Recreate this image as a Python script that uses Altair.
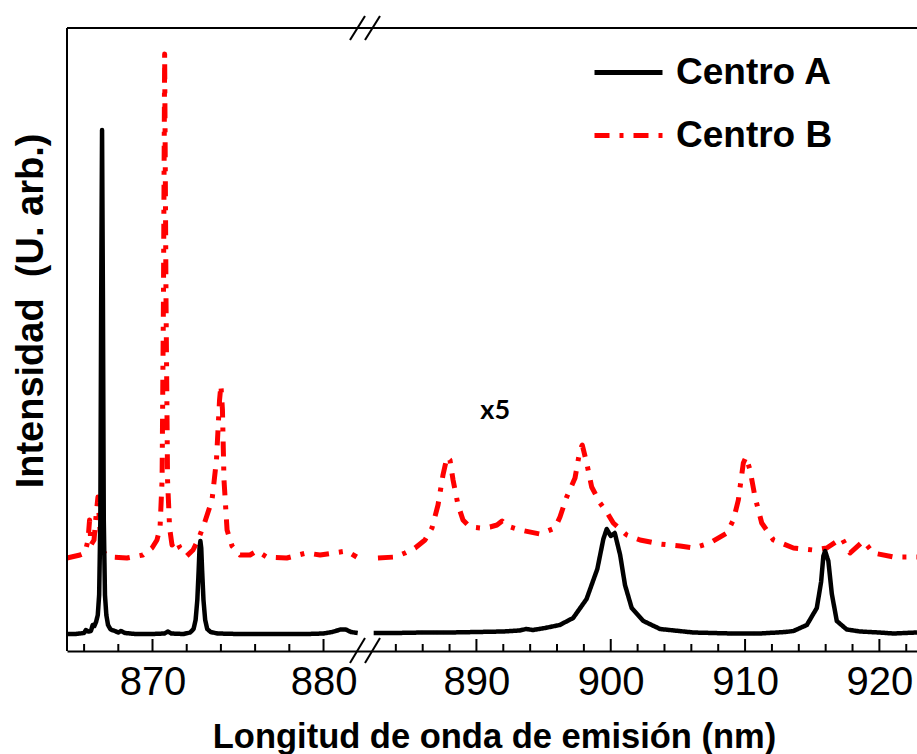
import altair as alt
import pandas as pd

# ---------------- data ----------------
series_names = ["Centro A", "Centro B"]

# Centro A, left of the axis break
a_left_nm = [865.0, 865.5, 866.0, 866.1, 866.25, 866.4, 866.5, 866.6, 866.7, 866.8, 866.88,
             866.95, 867.0, 867.05, 867.1, 867.15, 867.22, 867.3, 867.4, 867.55, 867.8, 868.0,
             868.15, 868.4, 869.0, 870.0, 870.7, 870.9, 871.1, 871.8, 872.2, 872.4, 872.52,
             872.62, 872.7, 872.75, 872.8, 872.85, 872.9, 872.98, 873.08, 873.2, 873.4, 873.8,
             875.0, 877.0, 879.0, 880.0, 880.5, 881.0, 881.3, 881.6, 882.0]
a_left_int = [17, 17, 18, 21, 19.5, 20, 26, 25, 29, 36, 56,
              131, 351, 521, 351, 131, 56, 36, 26, 21.5, 20, 18.5,
              20, 18, 17, 17, 17.5, 19.5, 17.5, 17, 18.5, 22, 31,
              51, 81, 103, 110, 103, 81, 51, 31, 22, 19, 17.5,
              17, 17, 17, 17.5, 19, 21.5, 21.5, 19, 18]

# Centro A, right of the axis break (x5)
a_right_nm = [882.35, 884.0, 886.0, 888.0, 890.0, 892.0, 893.2, 893.7, 894.2, 895.1, 896.2,
              897.2, 898.2, 899.0, 899.45, 899.7, 900.0, 900.3, 900.7, 901.06, 901.56, 902.43,
              903.67, 906.15, 909.0, 911.1, 913.0, 913.6, 914.6, 915.34, 915.66, 915.83, 915.96,
              916.2, 916.46, 916.83, 917.57, 918.56, 920.0, 921.04, 922.8]
a_right_int = [18, 18, 18.5, 18.5, 19, 19.5, 20.5, 22, 21, 23, 26,
               33, 52, 82, 112, 122, 115, 118, 96, 66, 43, 30,
               22, 18.5, 17.5, 17.5, 19, 20, 26, 43, 69, 95, 100,
               90, 57, 30, 21.5, 19.5, 18.5, 17.5, 18.5]

# Centro B, left of the axis break
b_left_nm = [865.0, 865.76, 866.05, 866.23, 866.32, 866.4, 866.58, 866.73, 866.81, 866.93,
             867.1, 867.5, 868.5, 869.44, 869.97, 870.26, 870.44, 870.56, 870.64, 870.71,
             870.79, 870.88, 871.0, 871.14, 871.4, 871.61, 872.0, 872.37, 872.66, 873.0,
             873.48, 873.74, 873.92, 874.0, 874.09, 874.18, 874.36, 874.65, 875.12, 875.7,
             876.1, 876.68, 877.85, 879.0, 879.8, 881.36, 881.94]
b_left_int = [93, 96, 98, 111, 131, 106, 111, 141, 154, 121,
              99, 94, 93, 96, 103, 111, 123, 171, 351, 597,
              351, 171, 123, 106, 111, 103, 95, 101, 111, 126,
              151, 191, 251, 266, 241, 171, 121, 105, 96, 96,
              100, 94, 93, 98, 96, 100, 94]

# Centro B, right of the axis break (x5)
b_right_nm = [882.67, 883.94, 884.68, 885.43, 886.17, 886.69, 887.14, 887.51, 887.81, 888.03,
              888.26, 888.63, 889.0, 889.52, 890.27, 891.01, 891.53, 891.91, 892.28, 893.25,
              894.73, 895.85, 896.22, 896.72, 897.34, 897.71, 897.88, 898.21, 898.58, 899.2,
              899.7, 900.19, 901.19, 902.18, 903.67, 905.16, 906.15, 907.39, 908.64, 909.13,
              909.5, 909.87, 910.07, 910.37, 910.74, 911.24, 912.11, 913.6, 915.09, 916.08,
              917.2, 917.82, 918.81, 919.55, 921.04, 922.53, 922.8]
b_right_int = [93, 94, 98, 103, 111, 123, 146, 176, 194, 191,
               171, 146, 131, 124, 123, 124, 126, 130, 125, 121,
               117, 123, 134, 154, 173, 201, 206, 188, 164, 148,
               139, 128, 116, 111, 107, 105, 103, 108, 118, 131,
               151, 188, 194, 181, 154, 128, 111, 103, 101, 103,
               113, 98, 110, 98, 94, 94, 94]

major_ticks = [870, 880, 890, 900, 910, 920]
minor_ticks = [866, 868, 872, 874, 876, 878, 884, 886, 888, 892, 894, 896, 898,
               902, 904, 906, 908, 912, 914, 916, 918, 922]

note_nm = [891.4]
note_int = [232]
note_text = ["x5"]
y_title = ["Intensidad \u00a0(U. arb.)"]


def seg_frame(name, seg, xs, ys):
    return pd.DataFrame({"nm": xs, "v": ys, "series": name, "seg": seg})


df_a = pd.concat([seg_frame("Centro A", "L", a_left_nm, a_left_int),
                  seg_frame("Centro A", "R", a_right_nm, a_right_int)], ignore_index=True)
df_b = pd.concat([seg_frame("Centro B", "L", b_left_nm, b_left_int),
                  seg_frame("Centro B", "R", b_right_nm, b_right_int)], ignore_index=True)
df_major = pd.DataFrame({"nm": major_ticks})
df_minor = pd.DataFrame({"nm": minor_ticks})
df_note = pd.DataFrame({"nm": note_nm, "v": note_int, "label": note_text})
df_ytitle = pd.DataFrame({"label": y_title})

# ---------------- chart ----------------
W, H = 850, 623
FONT = "Liberation Sans"
MAJOR_LEN, MINOR_LEN = 12, 7

# broken axis: piecewise linear scale
xscale = alt.Scale(domain=[865, 882.25, 882.3, 922.8], range=[0, 295, 306, W],
                   nice=False, zero=False)
yscale = alt.Scale(domain=[0, 623], nice=False, zero=False)

leg = alt.Legend(title=None, orient="none", legendX=525, legendY=8,
                 labelFont=FONT, labelFontSize=37, labelFontWeight="bold",
                 labelColor="black", symbolType="stroke", symbolSize=4624,
                 symbolStrokeWidth=5, labelOffset=11, rowPadding=8, padding=0)
color = alt.Color("series:N", scale=alt.Scale(domain=series_names, range=["#000000", "#ff0000"]),
                  legend=leg)
dash = alt.StrokeDash("series:N",
                      scale=alt.Scale(domain=series_names, range=[[1, 0], [15, 10, 4, 10]]),
                      legend=leg)

x_axis = alt.Axis(orient="bottom", values=major_ticks, ticks=False, tickSize=0,
                  domain=True, domainColor="black", domainWidth=2, grid=False,
                  labelFont=FONT, labelFontSize=40, labelColor="black",
                  labelBaseline="alphabetic", labelPadding=43, labelFlush=False,
                  labelOverlap=False,
                  title="Longitud de onda de emisión (nm)", titleFont=FONT,
                  titleFontSize=34.5, titleFontWeight="bold", titleColor="black",
                  titleX=427, titleY=96, titleBaseline="alphabetic", titleAlign="center")
x_enc = alt.X("nm:Q", scale=xscale, axis=x_axis)
y_enc = alt.Y("v:Q", scale=yscale, axis=None)

red = alt.Chart(df_b).mark_line(strokeWidth=5, strokeJoin="round").encode(
    x=x_enc, y=y_enc, color=color, strokeDash=dash, detail="seg:N")
black = alt.Chart(df_a).mark_line(strokeWidth=4.5, strokeJoin="round").encode(
    x=x_enc, y=y_enc, color=color, strokeDash=dash, detail="seg:N")

# inward tick marks on the bottom edge, placed through the x scale
major_rules = alt.Chart(df_major).mark_rule(strokeWidth=2, stroke="black").encode(
    x=x_enc, y=alt.value(H), y2=alt.value(H - MAJOR_LEN))
minor_rules = alt.Chart(df_minor).mark_rule(strokeWidth=2, stroke="black").encode(
    x=x_enc, y=alt.value(H), y2=alt.value(H - MINOR_LEN))

# frame lines: top and left
top_frame = alt.Chart(df_ytitle).mark_rule(strokeWidth=2, stroke="black").encode(
    x=alt.value(0), x2=alt.value(W), y=alt.value(0))
left_frame = alt.Chart(df_ytitle).mark_rule(strokeWidth=2, stroke="black").encode(
    x=alt.value(0), y=alt.value(0), y2=alt.value(H))

# y axis title
ytitle = alt.Chart(df_ytitle).mark_text(font=FONT, fontSize=38, fontWeight="bold",
                                        color="black", angle=270, align="center",
                                        baseline="alphabetic").encode(
    x=alt.value(-24), y=alt.value(283), text="label:N")


def slash(x1, x2, y1, y2):
    return alt.Chart(df_ytitle).mark_rule(strokeWidth=2, stroke="black").encode(
        x=alt.value(x1), x2=alt.value(x2), y=alt.value(y1), y2=alt.value(y2))


breaks = [slash(283, 298, 635, 610), slash(298, 313, 635, 610),
          slash(283, 298, 12, -12), slash(298, 313, 12, -12)]

note = alt.Chart(df_note).mark_text(font="Lato", fontSize=27, fontWeight="bold",
                                    color="black", baseline="alphabetic").encode(
    x=x_enc, y=y_enc, text="label:N")

chart = alt.layer(red, black, major_rules, minor_rules, top_frame, left_frame, ytitle,
                  *breaks, note).properties(
    width=W, height=H,
    autosize=alt.AutoSizeParams(type="none"),
    padding={"left": 67, "top": 28, "right": 0, "bottom": 103},
    background="white",
).configure_view(stroke=None)

chart.save("out.html", embed_options={"renderer": "svg", "actions": False})
